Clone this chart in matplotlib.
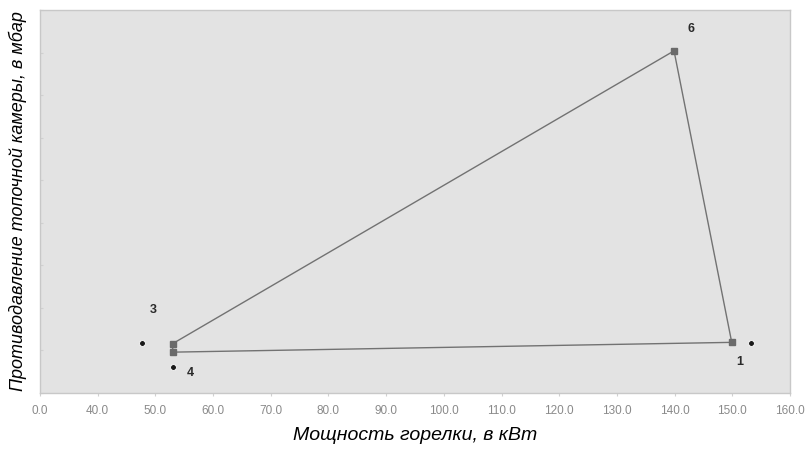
import matplotlib
matplotlib.use("Agg")
import matplotlib.pyplot as plt
import numpy as np

plt.rcParams['font.family'] = ['Liberation Sans', 'DejaVu Sans']

# Data (kW, arbitrary pressure units)
point_labels = ["3", "6", "1", "4"]
power_kw = [53.0, 139.9, 149.9, 53.0]
pressure = [1.16, 8.04, 1.19, 0.96]

star_x = [47.6, 53.1, 153.2]
star_y = [1.17, 0.61, 1.18]

tick_values = [0, 40, 50, 60, 70, 80, 90, 100, 110, 120, 130, 140, 150, 160]
tick_labels = ["0.0", "40.0", "50.0", "60.0", "70.0", "80.0", "90.0", "100.0",
               "110.0", "120.0", "130.0", "140.0", "150.0", "160.0"]

label_offsets = {"3": (-14, 24), "6": (12, 16), "1": (6, -14.5), "4": (13, -15)}


def fwd(x):
    x = np.asarray(x, dtype=float)
    return np.where(x < 40, x / 40.0, 1 + (x - 40) / 10.0)


def inv(p):
    p = np.asarray(p, dtype=float)
    return np.where(p < 1, p * 40.0, 40 + (p - 1) * 10.0)


fig = plt.figure(figsize=(8.08, 4.54), dpi=100)
ax = fig.add_axes([40 / 808, 61 / 454, 750 / 808, 383 / 454])
ax.set_facecolor("#e3e3e3")
ax.set_xscale("function", functions=(fwd, inv))
ax.set_xlim(0, 160)
ax.set_ylim(0, 9)

# Polygon lines
ax.plot(power_kw + [power_kw[0]], pressure + [pressure[0]], color="#727272", lw=1.0, zorder=2)
ax.plot(power_kw, pressure, ls="none", marker="s", ms=5, color="#6a6a6a", zorder=3)

# stray marks
ax.plot(star_x, star_y, ls="none", marker="o", ms=4.2, color="#1a1a1a",
        markeredgecolor="white", markeredgewidth=0.6, zorder=4)

for lab, x, y in zip(point_labels, power_kw, pressure):
    dx, dy = label_offsets[lab]
    ax.annotate(lab, (x, y), xytext=(dx, dy), textcoords="offset points",
                fontsize=9, fontweight="bold", color="#2a2a2a", ha="center", va="center")

ax.set_xticks(tick_values)
ax.set_xticklabels(tick_labels, fontsize=8.5, color="#8a8a8a")
ax.set_yticks(range(0, 10))
ax.set_yticklabels([])
ax.tick_params(axis="x", length=2, color="#d0d0d0", pad=7)
ax.tick_params(axis="y", length=2, color="#d0d0d0", direction="in")
ax.xaxis.set_minor_locator(matplotlib.ticker.NullLocator())

for s in ax.spines.values():
    s.set_color("#c8c8c8")
    s.set_linewidth(1.0)

ax.set_xlabel("Мощность горелки, в кВт", fontsize=14, style="italic", labelpad=7)
ax.set_ylabel("Противодавление топочной камеры, в мбар", fontsize=13, style="italic", labelpad=6)

fig.savefig("out.png", dpi=100, facecolor="white")
